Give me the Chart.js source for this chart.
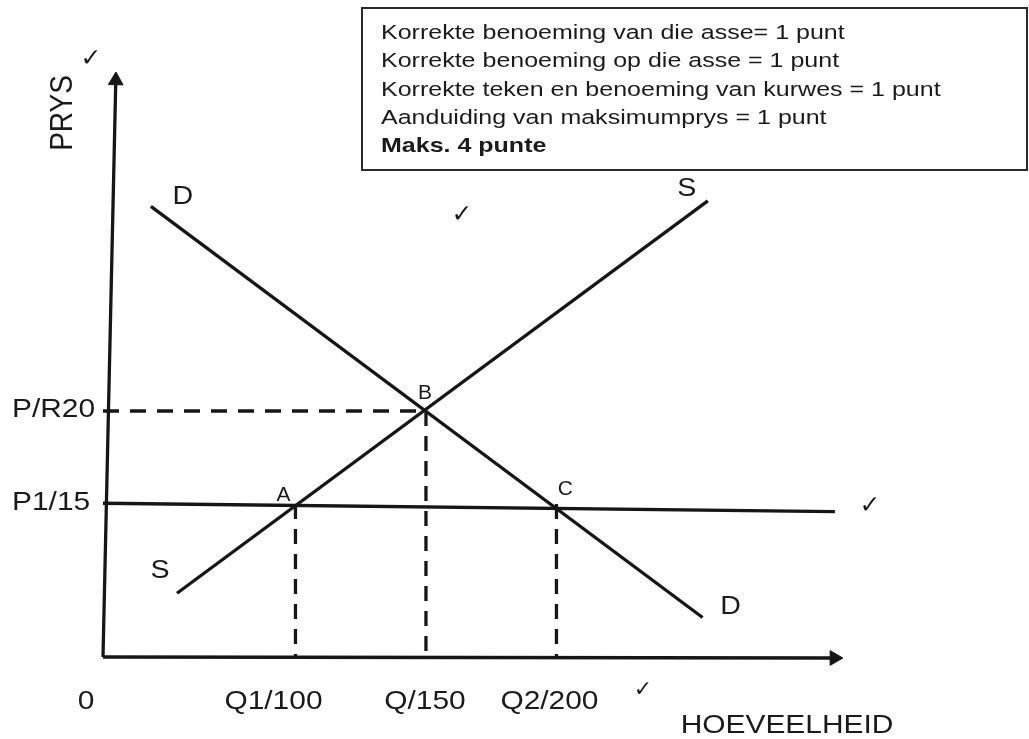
<!DOCTYPE html>
<html>
<head>
<meta charset="utf-8">
<script src="https://cdn.jsdelivr.net/npm/chart.js@4.4.1/dist/chart.umd.min.js"></script>
<style>
	body { margin: 0; background: #fff; }
	#wrap { position: relative; width: 1029px; height: 739px; }
</style>
</head>
<body>
<div id="wrap"><canvas id="grafiek"></canvas></div>
<script>
// axis ranges (quantity / price units)
const xMin = 26.25, xMax = 309.8;
const yMin = 6.774, yMax = 38.226;

// tick labels
const qtyTicks = [100, 150, 200];
const qtyLabels = ['Q1/100', 'Q/150', 'Q2/200'];
const priceTicks = [15, 20];
const priceLabels = ['P1/15', 'P/R20'];

// curves
const demandX = [44.6, 256];
const demandY = [31.0, 8.9];
const supplyX = [54.6, 258];
const supplyY = [10.2, 31.3];
const maxPriceX = [xMin, 306.7];
const maxPriceY = [15.04, 14.59];

// equilibrium and shortage points
const pointNames = ['A', 'B', 'C'];
const pointQ = [100, 150, 200];
const pointP = [15, 20, 15];

const notes = [
	'Korrekte benoeming van die asse= 1 punt',
	'Korrekte benoeming op die asse = 1 punt',
	'Korrekte teken en benoeming van kurwes = 1 punt',
	'Aanduiding van maksimumprys = 1 punt',
	'Maks. 4 punte'
];

const ink = '#161616';
const pts = (xs, ys) => xs.map((x, i) => ({ x: x, y: ys[i] }));

function lijn(data, dash) {
	return {
		data: data,
		borderColor: ink,
		borderWidth: 3.3,
		borderDash: dash || [],
		pointRadius: 0,
		showLine: true,
		fill: false,
		tension: 0,
		clip: false
	};
}

const datasets = [
	lijn([{ x: xMin, y: yMin }, { x: 31.15, y: 37.77 }]),
	lijn([{ x: xMin, y: yMin }, { x: 306.5, y: 6.72 }]),
	lijn(pts(demandX, demandY)),
	lijn(pts(supplyX, supplyY)),
	lijn(pts(maxPriceX, maxPriceY)),
	lijn([{ x: xMin, y: pointP[1] }, { x: pointQ[1], y: pointP[1] }], [16, 11])
];
pointQ.forEach((q, i) => {
	datasets.push(lijn([{ x: q, y: pointP[i] }, { x: q, y: yMin }], [15, 10]));
});
// arrow heads
datasets.push({
	data: [{ x: 31.15, y: 37.77 }, { x: 306.5, y: 6.72 }],
	showLine: false,
	pointStyle: 'triangle',
	pointRadius: 8.5,
	rotation: [1.3, 90],
	backgroundColor: ink,
	borderColor: ink,
	borderWidth: 1,
	clip: false
});

function skryf(ctx, s, x, y, font, align, sx, base) {
	ctx.save();
	ctx.font = font;
	ctx.textAlign = align;
	ctx.textBaseline = base || 'middle';
	ctx.fillStyle = '#1a1a1a';
	ctx.translate(x, y);
	ctx.scale(sx, 1);
	ctx.fillText(s, 0, 0);
	ctx.restore();
}

const fnt = "'Liberation Sans', Arial, sans-serif";

const teksPlugin = {
	id: 'teks',
	afterDatasetsDraw(chart) {
		const ctx = chart.ctx;
		const xs = chart.scales.x, ys = chart.scales.y;
		const big = '26px ' + fnt;

		// tick labels
		priceTicks.forEach((p, i) => {
			skryf(ctx, priceLabels[i], 12, ys.getPixelForValue(p) - 1, big, 'left', 1.15);
		});
		const nudge = [-22, -1, -7];
		qtyTicks.forEach((q, i) => {
			skryf(ctx, qtyLabels[i], xs.getPixelForValue(q) + nudge[i], 702, big, 'center', 1.15);
		});
		skryf(ctx, '0', 86, 702, big, 'center', 1.15);

		// axis titles
		skryf(ctx, 'HOEVEELHEID', 787, 726, big, 'center', 1.15);
		ctx.save();
		ctx.translate(63, 113);
		ctx.scale(1.15, 1);
		ctx.rotate(-Math.PI / 2);
		skryf(ctx, 'PRYS', 0, 0, '28px ' + fnt, 'center', 1);
		ctx.restore();

		// curve names
		const px = (x, y) => [xs.getPixelForValue(x), ys.getPixelForValue(y)];
		let p = px(demandX[0], demandY[0]);
		skryf(ctx, 'D', p[0] + 32, p[1] - 10, big, 'center', 1.1);
		p = px(demandX[1], demandY[1]);
		skryf(ctx, 'D', p[0] + 28, p[1] - 11, big, 'center', 1.1);
		p = px(supplyX[0], supplyY[0]);
		skryf(ctx, 'S', p[0] - 17, p[1] - 22, big, 'center', 1.1);
		p = px(supplyX[1], supplyY[1]);
		skryf(ctx, 'S', p[0] - 21, p[1] - 12, big, 'center', 1.1);

		// point names
		const offs = [[-12, -9], [-1, -18], [9, -15]];
		pointNames.forEach((n, i) => {
			const q = px(pointQ[i], pointP[i]);
			skryf(ctx, n, q[0] + offs[i][0], q[1] + offs[i][1], '20px ' + fnt, 'center', 1.05);
		});

		// tick marks of the memo
		const tick = "bold 25px 'DejaVu Sans', sans-serif";
		skryf(ctx, '\u2713', 91, 59, tick, 'center', 1);
		skryf(ctx, '\u2713', 462, 215, tick, 'center', 1);
		skryf(ctx, '\u2713', 870, 506, tick, 'center', 1);
		skryf(ctx, '\u2713', 643, 690, "22px 'DejaVu Sans', sans-serif", 'center', 1);

		// marking box
		ctx.save();
		ctx.strokeStyle = '#2a2a2a';
		ctx.lineWidth = 2;
		ctx.strokeRect(362, 8, 665, 162);
		ctx.restore();
		notes.forEach((t, i) => {
			const f = (i === notes.length - 1 ? 'bold ' : '') + '20.5px ' + fnt;
			skryf(ctx, t, 381, 39 + i * 28.3, f, 'left', 1.22, 'alphabetic');
		});
	}
};

new Chart(document.getElementById('grafiek'), {
	type: 'scatter',
	data: { datasets: datasets },
	options: {
		responsive: true,
		maintainAspectRatio: false,
		animation: false,
		layout: { padding: { left: 103, right: 186, top: 72, bottom: 82 } },
		plugins: { legend: { display: false }, tooltip: { enabled: false } },
		scales: {
			x: { type: 'linear', min: xMin, max: xMax, display: false },
			y: { type: 'linear', min: yMin, max: yMax, display: false }
		}
	},
	plugins: [teksPlugin]
});
</script>
</body>
</html>
